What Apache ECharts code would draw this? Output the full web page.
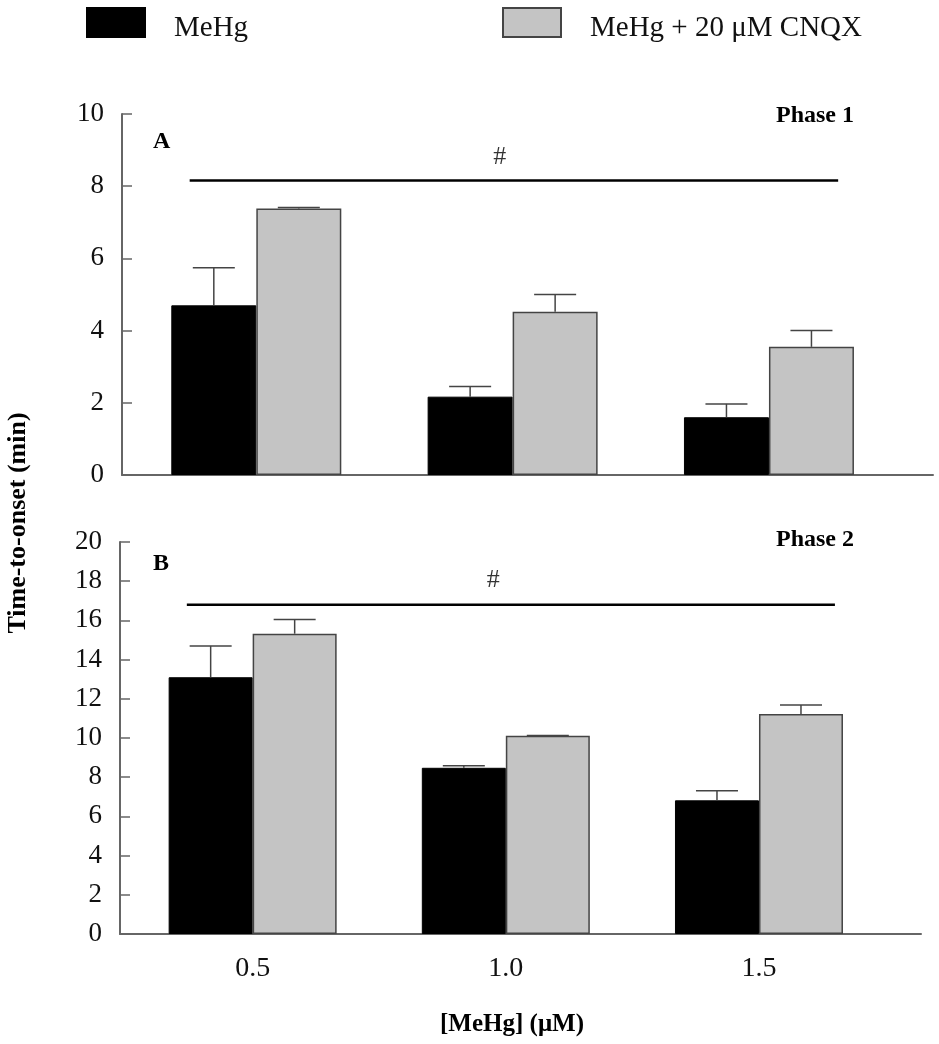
<!DOCTYPE html>
<html>
<head>
<meta charset="utf-8">
<script src="https://cdn.jsdelivr.net/npm/echarts@6/dist/echarts.min.js"></script>
<style>
  html, body { margin: 0; padding: 0; background: #fff; }
  #chart { width: 939px; height: 1044px; }
</style>
</head>
<body>
<div id="chart"></div>
<script>
// MeHg concentrations (µM)
const doses = [0.5, 1.0, 1.5];
const doseLabels = ["0.5", "1.0", "1.5"];
const seriesNames = ["MeHg", "MeHg + 20 \u03bcM CNQX"];

// Phase 1 time-to-onset (min): means and mean + error
const phase1MeHg = [4.7, 2.17, 1.6];
const phase1MeHgErr = [5.74, 2.45, 1.97];
const phase1Cnqx = [7.38, 4.52, 3.55];
const phase1CnqxErr = [7.41, 5.0, 4.0];

// Phase 2 time-to-onset (min)
const phase2MeHg = [13.1, 8.48, 6.82];
const phase2MeHgErr = [14.7, 8.58, 7.31];
const phase2Cnqx = [15.32, 10.11, 11.22];
const phase2CnqxErr = [16.05, 10.13, 11.69];

// significance bar: [x start, x end, y]
const phase1Sig = [0.37, 1.635, 8.16];
const phase2Sig = [0.37, 1.65, 16.8];

const serif = "'Liberation Serif', 'DejaVu Serif', serif";
const axisGrey = "#666";
const barGrey = "#c4c4c4";

const chart = echarts.init(document.getElementById("chart"));

function pairs(ys) {
  return doses.map((d, i) => [d, ys[i]]);
}
function errData(ys, es) {
  return doses.map((d, i) => [d, ys[i], es[i]]);
}

function errorSeries(idx, ys, es, dx) {
  return {
    type: "custom",
    xAxisIndex: idx,
    yAxisIndex: idx,
    z: 5,
    silent: true,
    encode: { x: 0, y: [1, 2] },
    data: errData(ys, es),
    renderItem: function (params, api) {
      const base = api.coord([api.value(0), api.value(1)]);
      const top = api.coord([api.value(0), api.value(2)]);
      const x = base[0] + dx;
      const style = { stroke: "#444", lineWidth: 1.5 };
      return {
        type: "group",
        children: [
          { type: "line", shape: { x1: x, y1: base[1], x2: x, y2: top[1] }, style: style },
          { type: "line", shape: { x1: x - 21, y1: top[1], x2: x + 21, y2: top[1] }, style: style }
        ]
      };
    }
  };
}

function barPair(idx, black, grey, bw) {
  return [
    {
      name: seriesNames[0],
      type: "bar",
      xAxisIndex: idx,
      yAxisIndex: idx,
      barWidth: bw,
      barGap: "0%",
      data: pairs(black),
      itemStyle: { color: "#000", borderColor: "#000", borderWidth: 1 }
    },
    {
      name: seriesNames[1],
      type: "bar",
      xAxisIndex: idx,
      yAxisIndex: idx,
      barWidth: bw,
      barGap: "0%",
      data: pairs(grey),
      itemStyle: { color: barGrey, borderColor: "#444", borderWidth: 1.5 }
    }
  ];
}

function sigSeries(idx, sig, hashY) {
  return [
    {
      type: "line",
      xAxisIndex: idx,
      yAxisIndex: idx,
      symbol: "none",
      silent: true,
      data: [[sig[0], sig[2]], [sig[1], sig[2]]],
      lineStyle: { color: "#000", width: 2.5 }
    },
    {
      type: "scatter",
      xAxisIndex: idx,
      yAxisIndex: idx,
      symbolSize: 0,
      silent: true,
      data: [[0.975, hashY]],
      label: {
        show: true,
        position: "inside",
        formatter: "#",
        fontFamily: serif,
        fontSize: 26,
        color: "#000"
      }
    }
  ];
}

function xAxis(idx, showLabels) {
  return {
    type: "value",
    gridIndex: idx,
    min: 0.238,
    max: 1.82,
    axisLine: { show: true, lineStyle: { color: axisGrey, width: 2 } },
    axisTick: { show: false },
    splitLine: { show: false },
    axisLabel: {
      show: showLabels,
      customValues: doses,
      formatter: (v) => doseLabels[doses.indexOf(v)] || v.toFixed(1),
      fontFamily: serif,
      fontSize: 28,
      color: "#111",
      margin: 21
    }
  };
}

function yAxis(idx, max) {
  return {
    type: "value",
    gridIndex: idx,
    min: 0,
    max: max,
    interval: 2,
    axisLine: { show: true, lineStyle: { color: axisGrey, width: 2 } },
    axisTick: { show: true, inside: true, length: 10, lineStyle: { color: axisGrey, width: 1.5 } },
    splitLine: { show: false },
    axisLabel: { fontFamily: serif, fontSize: 27, color: "#111", margin: 18 }
  };
}

const legendBase = {
  top: 7,
  padding: 0,
  itemWidth: 58,
  itemHeight: 29,
  icon: "rect",
  selectedMode: false,
  formatter: "{t|{name}}",
  textStyle: {
    color: "#111",
    rich: {
      t: { fontFamily: serif, fontSize: 29, color: "#111", padding: [12, 0, 0, 24] }
    }
  }
};

const option = {
  backgroundColor: "#fff",
  animation: false,
  legend: [
    Object.assign({}, legendBase, { left: 86, data: [seriesNames[0]] }),
    Object.assign({}, legendBase, { left: 502, data: [seriesNames[1]] })
  ],
  grid: [
    { left: 122, right: 6, top: 114, height: 361 },
    { left: 120, right: 18, top: 542, height: 392 }
  ],
  xAxis: [xAxis(0, false), xAxis(1, true)],
  yAxis: [yAxis(0, 10), yAxis(1, 20)],
  graphic: [
    { type: "text", left: 776, top: 104, style: { text: "Phase 1", font: "bold 24px " + serif, fill: "#000" } },
    { type: "text", left: 776, top: 528, style: { text: "Phase 2", font: "bold 24px " + serif, fill: "#000" } },
    { type: "text", left: 153, top: 130, style: { text: "A", font: "bold 24px " + serif, fill: "#000" } },
    { type: "text", left: 153, top: 552, style: { text: "B", font: "bold 24px " + serif, fill: "#000" } },
    {
      type: "text", x: 18, y: 523, rotation: Math.PI / 2,
      style: { text: "Time-to-onset (min)", font: "bold 26px " + serif, fill: "#000", textAlign: "center", textVerticalAlign: "middle" }
    },
    {
      type: "text", x: 512, y: 1025,
      style: { text: "[MeHg] (\u03bcM)", font: "bold 25px " + serif, fill: "#000", textAlign: "center", textVerticalAlign: "middle" }
    }
  ],
  series: [].concat(
    barPair(0, phase1MeHg, phase1Cnqx, 85),
    [errorSeries(0, phase1MeHg, phase1MeHgErr, -42.5), errorSeries(0, phase1Cnqx, phase1CnqxErr, 42.5)],
    sigSeries(0, phase1Sig, 8.8),
    barPair(1, phase2MeHg, phase2Cnqx, 84),
    [errorSeries(1, phase2MeHg, phase2MeHgErr, -42), errorSeries(1, phase2Cnqx, phase2CnqxErr, 42)],
    sigSeries(1, phase2Sig, 18.05)
  )
};

chart.setOption(option);
</script>
</body>
</html>
